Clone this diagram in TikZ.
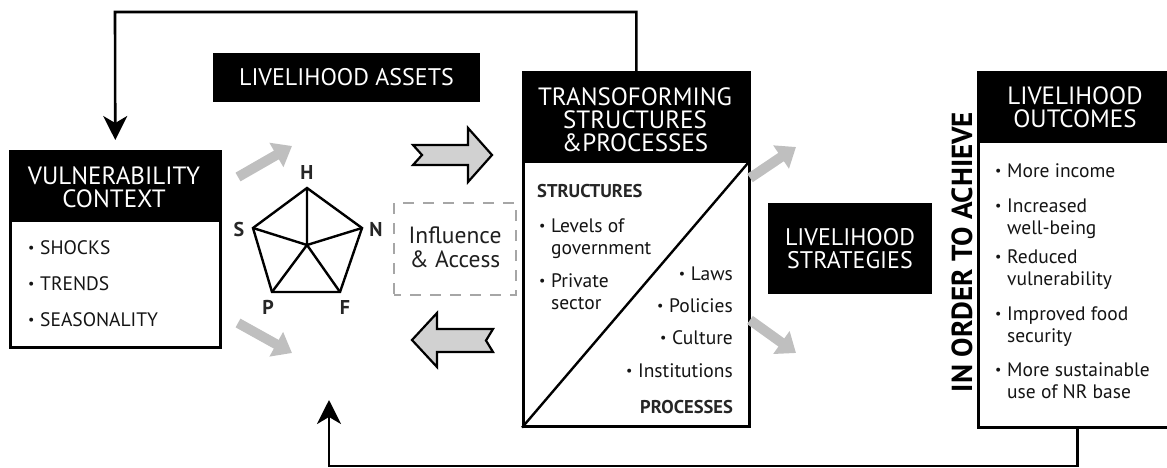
\documentclass[tikz,border=0pt]{standalone}
\usepackage{fontspec}
\setmainfont{PT Sans}
\usetikzlibrary{arrows.meta}
\newcommand{\bu}{\makebox[12pt][l]{\raisebox{0.1em}{\scalebox{0.72}{\textbullet}}}}
\begin{document}
\begin{tikzpicture}[x=1pt,y=-1pt,
  hdr/.style={text=white, align=center, inner sep=0pt, font=\fontsize{25}{23}\selectfont},
  blackbox/.style={fill=black, inner sep=0pt, text=white, align=center, font=\fontsize{24}{23}\selectfont},
  item/.style={anchor=base west, inner sep=0pt, text=black!92, font=\fontsize{19.5}{19}\selectfont},
  ritem/.style={anchor=base east, inner sep=0pt, text=black!92, font=\fontsize{19.5}{19}\selectfont},
  bolditem/.style={inner sep=0pt, text=black!85, font=\bfseries\fontsize{18.5}{18}\selectfont},
  frame/.style={draw=black, line width=2.6pt, fill=white, inner sep=0pt, anchor=north west},
  feed/.style={line width=2.6pt, -{Stealth[length=24pt,width=24pt,inset=7pt]}},
  grayarr/.style={draw=black!25, line width=10pt, -{Triangle[length=18pt,width=27pt]}},
  fat/.style={fill=black!18, draw=black, line width=2.2pt, line join=miter},
  plabel/.style={inner sep=0pt, font=\bfseries\fontsize{20}{20}\selectfont, text=black!85},
  edge/.style={line width=2.4pt, line join=miter},
]
\useasboundingbox (0,0) rectangle (1167,468);

% ---------------- Vulnerability context
\node[frame, minimum width=210, minimum height=196] (vc) at (9,150) {};
\fill (9,150) rectangle (219,222);
\node[hdr] (vch) at (114,187) {VULNERABILITY\\CONTEXT};
\node[item] (vc1) at (28,254) {\bu SHOCKS};
\node[item] (vc2) at (28,290) {\bu TRENDS};
\node[item] (vc3) at (28,326) {\bu SEASONALITY};

% ---------------- Livelihood assets
\node[blackbox, minimum width=267, minimum height=49] (la) at (346.5,77.5) {LIVELIHOOD ASSETS};

% pentagon
\coordinate (H) at (307,188);
\coordinate (N) at (362,228);
\coordinate (F) at (340,292);
\coordinate (P) at (272,292);
\coordinate (S) at (253,228);
\coordinate (C) at (307,245);
\draw[edge] (H) -- (N) -- (F) -- (P) -- (S) -- cycle;
\draw[edge] (H) -- (C) (S) -- (C) (N) -- (C) (P) -- (C) (F) -- (C);
\node[plabel] (lH) at (307,172) {H};
\node[plabel] (lN) at (376,229) {N};
\node[plabel] (lF) at (345,307) {F};
\node[plabel] (lP) at (268,307) {P};
\node[plabel] (lS) at (239,229) {S};

% gray arrows from vulnerability context
\coordinate (g1s) at (238,177);
\coordinate (g1e) at (292,146);
\coordinate (g2s) at (238,323);
\coordinate (g2e) at (292,353);
\draw[grayarr] (g1s) -- (g1e);
\draw[grayarr] (g2s) -- (g2e);

% Influence & access
\node[draw=black!35, dash pattern=on 11pt off 9pt, dash phase=4pt, line width=2pt,
      minimum width=122, minimum height=92, inner sep=0pt] (ia) at (455,249) {};
\node[inner sep=0pt, align=center, text=black!88, font=\fontsize{23.5}{24}\selectfont] (iat) at (455,247) {Influence\\\& Access};

% fat arrows
\draw[fat] (413,145) -- (468,145) -- (468,128) -- (492,155) -- (468,182) -- (468,165) -- (413,165) -- (422,155) -- cycle;
\draw[fat] (412,340) -- (437,313) -- (437,329) -- (493,329) -- (486,340.5) -- (493,352) -- (437,352) -- (437,367) -- cycle;

% ---------------- Transforming structures & processes
\node[frame, minimum width=226, minimum height=354] (ts) at (522,71) {};
\fill (522,71) rectangle (748,163);
\node[hdr] (tsh) at (635,119.5) {TRANSOFORMING\\STRUCTURES\\\&PROCESSES};
\draw[line width=2.4pt] (ts.south west) -- (748,163);
\node[bolditem, anchor=base west] (st) at (537,197) {STRUCTURES};
\node[item] (t1) at (539,232) {\bu Levels of};
\node[item] (t1b) at (551,254) {government};
\node[item] (t2) at (539,287) {\bu Private};
\node[item] (t2b) at (551,309) {sector};
\node[ritem] (t3) at (733,280) {\bu Laws};
\node[ritem] (t4) at (733,312) {\bu Policies};
\node[ritem] (t5) at (733,344) {\bu Culture};
\node[ritem] (t6) at (733,377) {\bu Institutions};
\node[bolditem, anchor=base east] (pr) at (733,413) {PROCESSES};

% gray arrows from TS
\coordinate (g3s) at (750,178);
\coordinate (g3e) at (796,147);
\coordinate (g4s) at (750,320);
\coordinate (g4e) at (796,353);
\draw[grayarr] (g3s) -- (g3e);
\draw[grayarr] (g4s) -- (g4e);

% ---------------- Livelihood strategies
\node[blackbox, minimum width=164, minimum height=91] (ls) at (850,248.5) {LIVELIHOOD\\STRATEGIES};

% ---------------- In order to achieve
\node[rotate=90, inner sep=0pt, font=\bfseries\fontsize{29}{29}\selectfont] (ioa) at (962,252) {IN ORDER TO ACHIEVE};

% ---------------- Livelihood outcomes
\node[frame, minimum width=198, minimum height=355] (lo) at (977,71) {};
\fill (977,71) rectangle (1175,143);
\node[hdr] (loh) at (1075,107.5) {LIVELIHOOD\\OUTCOMES};
\node[item] (o1) at (995,177) {\bu More income};
\node[item] (o2) at (995,212) {\bu Increased};
\node[item] (o2b) at (1007,234) {well-being};
\node[item] (o3) at (995,263) {\bu Reduced};
\node[item] (o3b) at (1007,285) {vulnerability};
\node[item] (o4) at (995,320) {\bu Improved food};
\node[item] (o4b) at (1007,342) {security};
\node[item] (o5) at (995,376) {\bu More sustainable};
\node[item] (o5b) at (1007,398) {use of NR base};

% ---------------- feedback connectors
\coordinate (tl) at (115,12);
\draw[feed, shorten >=10pt] (ts.north) |- (tl) -- (vc.north);
\coordinate (br) at (329,466);
\coordinate (pa) at (329,400);
\draw[feed] (lo.south) |- (br) -- (pa);
\end{tikzpicture}
\end{document}
